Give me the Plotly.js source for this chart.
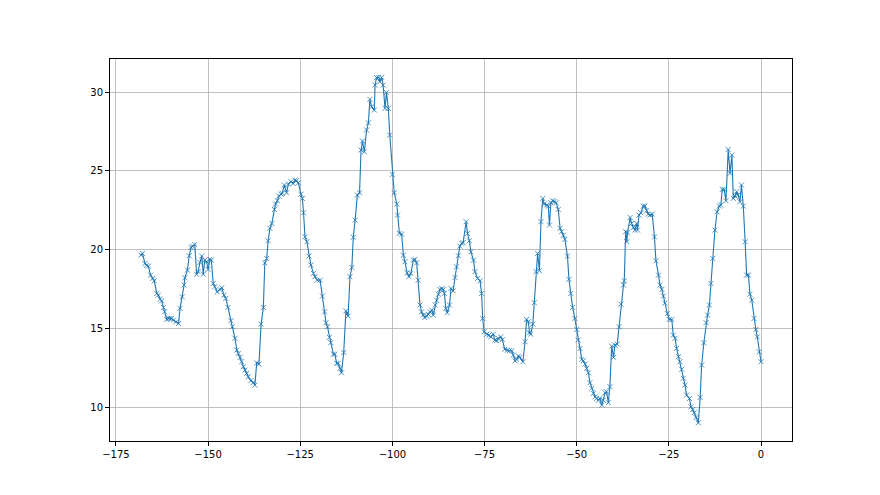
<!DOCTYPE html>
<html>
<head>
<meta charset="utf-8">
<script src="https://cdn.plot.ly/plotly-3.0.1.min.js"></script>
<style>html,body{margin:0;padding:0;background:#fff;}#chart{width:880px;height:495px;}</style>
</head>
<body>
<div id="chart"></div>
<script>
const xValues = [
-168.2,-167.8,-167.1,-166.7,-166.2,-165.6,-165.0,-164.6,-163.9,-163.5,-163.0,-162.6,-162.1,-161.8,-161.2,-160.8,-160.3,-159.9,-159.4,-158.7,-158.0,-157.6,-157.0,-156.5,-156.3,-155.6,-155.1,-154.6,-154.2,-153.6,-153.1,-152.7,-152.2,-151.7,-151.3,-150.9,-150.4,-150.0,-149.5,-149.1,-148.6,-148.2,-147.5,-146.8,-146.3,-145.7,-145.2,-144.6,
-143.8,-143.4,-142.7,-142.2,-141.8,-141.3,-140.9,-140.4,-140.0,-139.5,-139.1,-138.4,-137.7,-137.3,-136.8,-136.2,-135.6,-135.0,-134.6,-134.1,-133.7,-133.2,-132.7,-132.0,-131.7,-131.2,-130.8,-130.2,-129.9,-129.3,-128.7,-128.2,-127.5,-126.9,-126.4,-126.0,-125.5,-124.8,-124.4,-124.1,-123.7,-123.2,-122.6,-122.1,-121.4,-121.0,-120.4,-119.6,-119.0,-118.4,
-118.0,-117.6,-117.1,-116.7,-116.0,-115.6,-115.1,-114.7,-114.2,-113.8,-113.2,-112.6,-112.0,-111.5,-111.0,-110.6,-110.1,-109.5,-108.9,-108.5,-108.1,-107.6,-107.0,-106.5,-106.1,-105.6,-104.9,-104.7,-104.3,-103.7,-103.4,-102.9,-102.5,-102.0,-101.6,-101.1,-100.7,-100.0,-99.5,-98.8,-98.6,-98.1,-97.5,-97.0,-96.6,-96.0,-95.5,
-95.0,-94.3,-93.9,-93.4,-93.0,-92.5,-92.1,-91.6,-91.2,-90.7,-90.3,-89.8,-89.3,-88.9,-88.4,-88.0,-87.5,-87.1,-86.6,-86.2,-85.9,-85.5,-85.1,-84.5,-84.1,-83.5,-83.0,-82.6,-82.1,-81.7,-81.2,-80.8,-80.0,-79.6,-79.1,-78.7,-78.0,-77.6,-76.9,-76.2,-75.8,-75.5,-75.1,-74.4,-73.8,-73.3,-72.6,-72.2,-71.7,-71.3,-70.6,-70.2,
-69.5,-68.8,-68.3,-67.6,-67.2,-66.7,-66.3,-65.8,-65.4,-64.6,-64.0,-63.6,-63.1,-62.8,-62.5,-61.9,-61.5,-61.0,-60.6,-60.1,-59.7,-59.2,-58.8,-58.1,-57.7,-57.4,-57.0,-56.5,-56.1,-55.6,-55.0,-54.5,-54.1,-53.6,-53.2,-52.5,-52.1,-51.6,-51.1,-50.5,-50.0,-49.6,-49.1,
-48.6,-48.2,-47.7,-47.3,-46.8,-46.4,-45.9,-45.5,-45.0,-44.6,-44.1,-43.7,-43.2,-42.8,-42.3,-41.9,-41.4,-41.0,-40.5,-40.0,-39.6,-39.0,-38.5,-38.0,-37.3,-37.1,-36.7,-36.4,-36.2,-35.5,-35.1,-34.6,-34.2,-33.7,-33.5,-33.1,-32.6,-31.9,-31.5,-31.0,-30.6,-30.1,-29.5,-28.9,-28.5,-27.8,-27.4,-26.9,-26.5,-26.1,
-25.4,-24.9,-24.2,-23.8,-23.3,-22.9,-22.4,-22.0,-21.5,-21.1,-20.6,-20.2,-19.4,-19.0,-18.5,-18.1,-17.6,-17.0,-16.5,-16.1,-15.5,-14.9,-14.5,-14.0,-13.6,-13.1,-12.5,-11.9,-11.3,-10.9,-10.5,-10.0,-9.5,-8.9,-8.4,-7.9,-7.5,-7.05,-6.6,-6.2,-5.7,-5.3,-4.8,-4.3,-3.9,-3.4,-3.0,-2.5,-1.9,-1.4,-1.0,-0.5,0.0
];
const yValues = [
19.65,19.76,19.12,19.0,18.95,18.38,18.17,18.02,17.22,17.11,16.86,16.75,16.33,16.05,15.56,15.65,15.63,15.63,15.52,15.42,15.31,16.27,17.0,17.75,18.21,18.7,19.61,20.14,20.22,20.33,18.43,18.6,19.19,19.59,18.44,19.33,19.23,18.75,19.38,19.33,17.85,17.64,17.32,17.47,17.58,17.11,16.9,16.33,
15.49,15.11,14.37,13.62,13.41,13.16,12.88,12.56,12.35,12.14,11.93,11.67,11.57,11.4,12.81,12.73,15.27,16.33,19.16,19.44,20.56,21.35,21.66,22.55,22.89,23.1,23.4,23.52,23.57,24.1,23.61,24.16,24.31,24.2,24.41,24.37,24.24,23.52,23.25,22.34,20.81,20.5,19.59,19.02,18.49,18.28,18.06,18.06,17.05,16.05,
15.36,15.1,14.43,14.09,13.37,13.35,12.78,12.78,12.46,12.18,13.47,16.11,15.78,18.28,18.87,20.78,21.87,23.46,23.61,26.32,26.89,26.21,27.59,28.05,29.54,29.07,28.86,30.44,30.93,30.93,30.65,30.93,30.44,28.97,29.98,28.97,27.27,24.77,23.61,22.89,22.19,21.03,20.98,19.65,19.23,18.53,18.28,
18.49,19.33,19.38,19.16,18.06,16.48,16.05,15.84,15.69,15.78,15.9,16.05,16.16,15.84,16.48,16.79,17.17,17.47,17.53,17.47,17.22,16.27,15.99,16.48,17.53,17.38,18.23,18.91,19.61,20.22,20.4,20.44,21.77,21.03,20.56,19.86,19.33,18.6,18.17,18.02,17.22,15.63,14.78,14.63,14.57,14.46,14.63,14.25,14.21,14.36,14.46,14.29,
13.67,13.62,13.58,13.58,13.3,12.94,13.03,13.24,13.16,12.88,14.15,15.57,15.42,14.72,14.63,15.27,16.63,18.6,19.76,18.66,21.77,23.25,22.89,22.83,22.76,21.56,22.98,23.11,23.05,22.98,22.55,21.35,21.14,20.92,20.65,19.59,18.11,17.22,16.33,15.63,14.93,14.25,13.72,
13.03,12.94,12.73,12.46,12.18,11.55,11.19,10.87,10.66,10.55,10.44,10.55,10.13,10.44,10.91,10.98,10.28,11.3,13.87,13.16,13.94,14.0,15.1,16.54,17.75,18.02,21.14,20.5,21.07,22.04,21.66,21.41,21.24,21.66,21.24,22.19,22.34,22.76,22.76,22.47,22.25,22.19,22.25,20.81,19.29,18.38,17.75,17.47,17.05,16.6,
15.94,15.56,15.56,14.57,14.37,13.73,13.2,12.88,12.4,11.83,11.4,10.76,10.55,10.02,9.85,9.64,9.34,9.0,10.62,12.67,14.09,15.36,15.84,16.48,17.85,19.44,21.24,22.4,22.76,22.83,23.82,23.82,23.1,26.36,24.84,26.0,23.25,23.4,23.68,23.46,23.04,24.1,22.76,20.5,18.38,18.38,17.17,16.79,15.63,14.93,14.46,13.51,12.88
];
const xTicks = [-175, -150, -125, -100, -75, -50, -25, 0];
const yTicks = [10, 15, 20, 25, 30];

const trace = {
  x: xValues, y: yValues, type: 'scatter', mode: 'lines+markers',
  line: {color: '#1f77b4', width: 1.1},
  marker: {symbol: 'x-thin', size: 5, color: '#1f77b4', line: {color: '#1f77b4', width: 0.8}},
  hoverinfo: 'skip'
};
const axisCommon = {
  showline: true, mirror: true, linecolor: '#000', linewidth: 1,
  ticks: 'outside', ticklen: 4, tickwidth: 1, tickcolor: '#000',
  showgrid: true, gridcolor: '#b0b0b0', gridwidth: 0.8,
  zeroline: false, tickfont: {family: 'DejaVu Sans', size: 10, color: '#000'},
  tickmode: 'array'
};
const layout = {
  width: 880, height: 495,
  margin: {l: 110, r: 88, t: 59, b: 54},
  paper_bgcolor: '#fff', plot_bgcolor: '#fff',
  showlegend: false,
  xaxis: Object.assign({}, axisCommon, {range: [-176.6, 8.41], tickvals: xTicks}),
  yaxis: Object.assign({}, axisCommon, {range: [7.85, 32.1], tickvals: yTicks})
};
Plotly.newPlot('chart', [trace], layout, {staticPlot: true, displayModeBar: false});
</script>
</body>
</html>
